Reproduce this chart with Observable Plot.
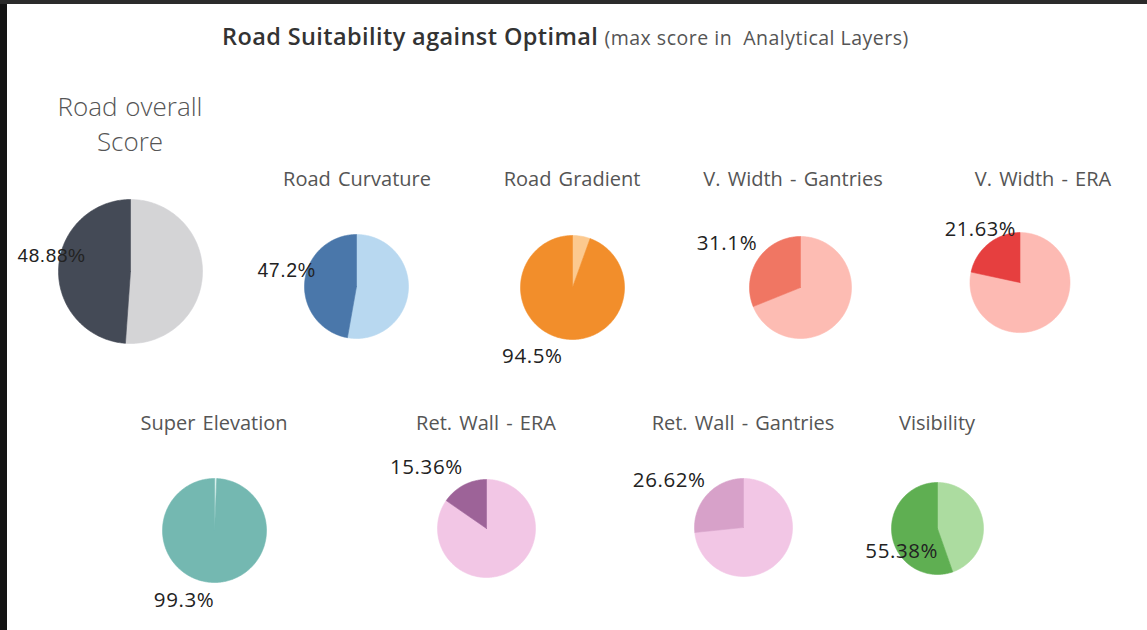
<!DOCTYPE html>
<html><head><meta charset="utf-8">
<script src="https://cdn.jsdelivr.net/npm/d3@7"></script>
<script src="https://cdn.jsdelivr.net/npm/@observablehq/plot@0.6"></script>
<style>
html,body{margin:0;padding:0;background:#fff;overflow:hidden;}
#frame{position:relative;width:1147px;height:630px;overflow:hidden;background:#fff;font-family:"Open Sans",sans-serif;}
#leftbar{position:absolute;left:0;top:0;width:7px;height:630px;background:#141414;}
#topbar{position:absolute;left:0;top:0;width:1147px;height:4px;background:#2b2b2b;}
#title{position:absolute;left:222px;top:20px;white-space:nowrap;color:#333;}
#title b{font-weight:600;font-size:23.5px;letter-spacing:0.4px;}
#title span{font-size:19.5px;color:#555;letter-spacing:0.5px;margin-left:2px;}
.panel{position:absolute;}
.panel text{letter-spacing:0.6px;}
.ptitle{position:absolute;transform:translate(-50%,-50%);white-space:nowrap;color:#555;font-size:20px;word-spacing:2px;text-align:center;}
.ptitle.big{font-size:26px;font-weight:300;line-height:35px;word-spacing:1px;}
</style></head>
<body>
<div id="frame">
  <div id="title"><b>Road Suitability against Optimal</b> <span>(max score in&nbsp; Analytical Layers)</span></div>
</div>
<script>
// ---- data ----
const categories = ["Road overall Score", "Road Curvature", "Road Gradient", "V. Width - Gantries", "V. Width - ERA",
                    "Super Elevation", "Ret. Wall - ERA", "Ret. Wall - Gantries", "Visibility"];
const scores = [48.88, 47.2, 94.5, 31.1, 21.63, 99.3, 15.36, 26.62, 55.38];
const scoreLabels = ["48.88%", "47.2%", "94.5%", "31.1%", "21.63%", "99.3%", "15.36%", "26.62%", "55.38%"];

// ---- styles ----
const scoreColors = ["#444a56", "#4a77aa", "#f28e2b", "#f07663", "#e63f3f", "#74b8b1", "#9d6398", "#d7a1c9", "#5faf52"];
const restColors  = ["#d4d4d6", "#b8d8f0", "#fcc98f", "#fdbcb3", "#fdbab3", "#d9f0ec", "#f2c6e5", "#f2c6e5", "#acdca0"];

// ---- layout (pixel placement of each panel) ----
const layout = [
  {cx:130, cy:271, r:72, tx:130, ty:124, ldx:27, ldy:-13.5, lfont:"Liberation Sans", lsize:19},
  {cx:356, cy:286, r:52, tx:357, ty:178, ldx:11, ldy:-11.5, lfont:"Liberation Sans", lsize:19.5},
  {cx:572, cy:287, r:52, tx:572, ty:178, ldx:-1, ldy:18},
  {cx:800, cy:287, r:51, tx:793, ty:178, ldx:-1, ldy:-15.5},
  {cx:1022, cy:284, r:51, tx:1043, ty:178, ldx:28, ldy:-14},
  {cx:214, cy:530, r:52, tx:214, ty:422, ldx:1, ldy:18},
  {cx:486, cy:528, r:49, tx:486, ty:422, ldx:-1, ldy:-17.5},
  {cx:743, cy:527, r:49, tx:743, ty:422, ldx:-1.5, ldy:-14},
  {cx:937, cy:528, r:46, tx:937, ty:422, ldx:46, ldy:15}
];

const frame = document.getElementById("frame");
frame.insertAdjacentHTML("afterbegin", '<div id="leftbar"></div><div id="topbar"></div>');

const PW = 260, PH = 200;

function pie(i) {
  const L = layout[i], v = scores[i] / 100;
  const slices = [
    {slice: "rest", from: 0, to: 1 - v, color: restColors[i]},
    {slice: "score", from: 1 - v, to: 1, color: scoreColors[i]}
  ];
  const pts = [];
  for (const s of slices) {
    const n = Math.max(2, Math.ceil((s.to - s.from) * 360));
    pts.push({slice: s.slice, color: s.color, x: 0, y: 0});
    for (let k = 0; k <= n; k++) {
      const t = (s.from + (s.to - s.from) * k / n) * 2 * Math.PI;
      pts.push({slice: s.slice, color: s.color, x: L.r * Math.sin(t), y: -L.r * Math.cos(t)});
    }
    pts.push({slice: s.slice, color: s.color, x: 0, y: 0});
  }
  const mid = (1 - v / 2) * 2 * Math.PI;
  const lab = [{x: L.r * Math.sin(mid), y: -L.r * Math.cos(mid), text: scoreLabels[i]}];
  return Plot.plot({
    width: PW, height: PH, margin: 0,
    x: {domain: [-PW / 2, PW / 2], range: [0, PW], axis: null},
    y: {domain: [-PH / 2, PH / 2], range: [0, PH], axis: null},
    color: {type: "identity"},
    style: {background: "transparent", overflow: "visible"},
    marks: [
      Plot.line(pts, {x: "x", y: "y", z: "slice", fill: "color", stroke: "color", strokeWidth: 0.6}),
      Plot.text(lab, {x: "x", y: "y", text: "text", textAnchor: "end", dx: L.ldx, dy: L.ldy,
        fontSize: L.lsize || 20.5, fontFamily: L.lfont || "Open Sans", fill: "#222"})
    ]
  });
}

categories.forEach((c, i) => {
  const L = layout[i];
  const div = document.createElement("div");
  div.className = "panel";
  div.style.left = (L.cx - PW / 2) + "px";
  div.style.top = (L.cy - PH / 2) + "px";
  div.appendChild(pie(i));
  frame.appendChild(div);
  const t = document.createElement("div");
  t.className = "ptitle" + (i === 0 ? " big" : "");
  t.style.left = L.tx + "px";
  t.style.top = L.ty + "px";
  if (i === 0) t.innerHTML = "Road overall<br>Score"; else t.textContent = c;
  frame.appendChild(t);
});
</script>
</body></html>
